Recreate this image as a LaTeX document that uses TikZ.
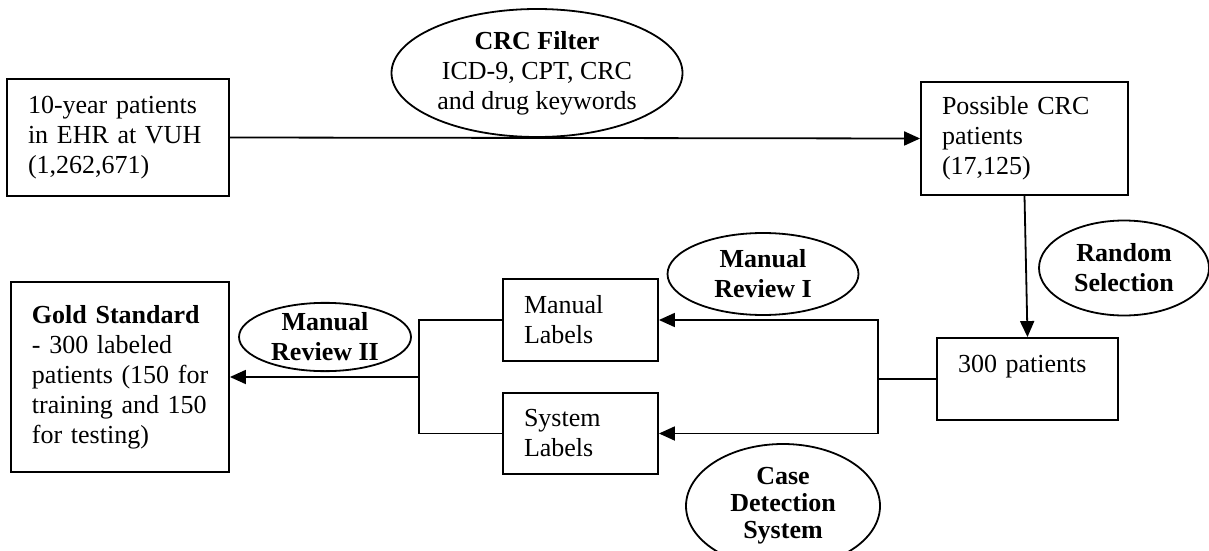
\documentclass[tikz,border=0pt]{standalone}
\usepackage{fontspec}
\setmainfont{Liberation Serif}
\usetikzlibrary{shapes.geometric,arrows.meta}
\begin{document}
\begin{tikzpicture}[x=0.5pt,y=-0.5pt,line width=0.9pt,
        font=\fontsize{13}{15}\selectfont,
        box/.style={draw,rectangle,align=left,inner xsep=10.5pt,inner ysep=0pt},
        oval/.style={draw,ellipse,align=center,inner sep=0pt,font=\fontsize{13}{15}\selectfont\bfseries},
        arr/.style={-{Triangle[length=8pt,width=7pt]}}]
        \clip (0,0) rectangle (1209,551);
        % boxes
        \node[box,text width=90pt,minimum height=58.5pt] (ehr) at (118,137.5) {10-year patients\\in EHR at VUH\\(1,262,671)};
        \node[box,text width=82.5pt,minimum height=56.5pt] (possible) at (1024.5,138.5) {Possible CRC\\patients\\(17,125)};
        \node[box,text width=69.5pt,minimum height=41pt] (sample) at (1027.5,379) {300 patients\\~};
        \node[box,text width=56.5pt,minimum height=41pt] (manual) at (580.5,320) {Manual\\Labels};
        \node[box,text width=56.5pt,minimum height=40.5pt] (system) at (580.5,433.5) {System\\Labels};
        \node[box,text width=88pt,minimum height=95pt] (gold) at (120,377) {\textbf{Gold Standard}\\- 300 labeled\\\mbox{patients (150 for}\\\mbox{training and 150}\\for testing)};
        % ovals
        \node[oval,font=\fontsize{13}{15}\selectfont,minimum width=145.5pt,minimum height=64pt] (filter) at (537,73) {\textbf{CRC Filter}\\ICD-9, CPT, CRC\\and drug keywords};
        \node[oval,minimum width=85pt,minimum height=47.5pt] (random) at (1124,268) {Random\\Selection};
        \node[oval,minimum width=95.5pt,minimum height=41pt] (review1) at (763,274) {Manual\\Review I};
        \node[oval,minimum width=86pt,minimum height=33.5pt] (review2) at (325,337) {Manual\\Review II};
        \node[oval,font=\fontsize{13}{13.5}\selectfont\bfseries,minimum width=97pt,minimum height=62pt] (detect) at (783,506) {Case\\Detection\\System};
        % connectors
        \coordinate (split) at (878,379);
        \coordinate (merge) at (419,377);
        \draw[arr] (ehr.east) -- (possible.west);
        \draw[arr] (possible.south) -- (sample.north);
        \draw (sample.west) -- (split);
        \draw[arr] (split) |- (manual.east);
        \draw[arr] (split) |- (system.east);
        \draw (manual.west) -| (merge);
        \draw (system.west) -| (merge);
        \draw[arr] (merge) -- (gold.east);
\end{tikzpicture}
\end{document}
